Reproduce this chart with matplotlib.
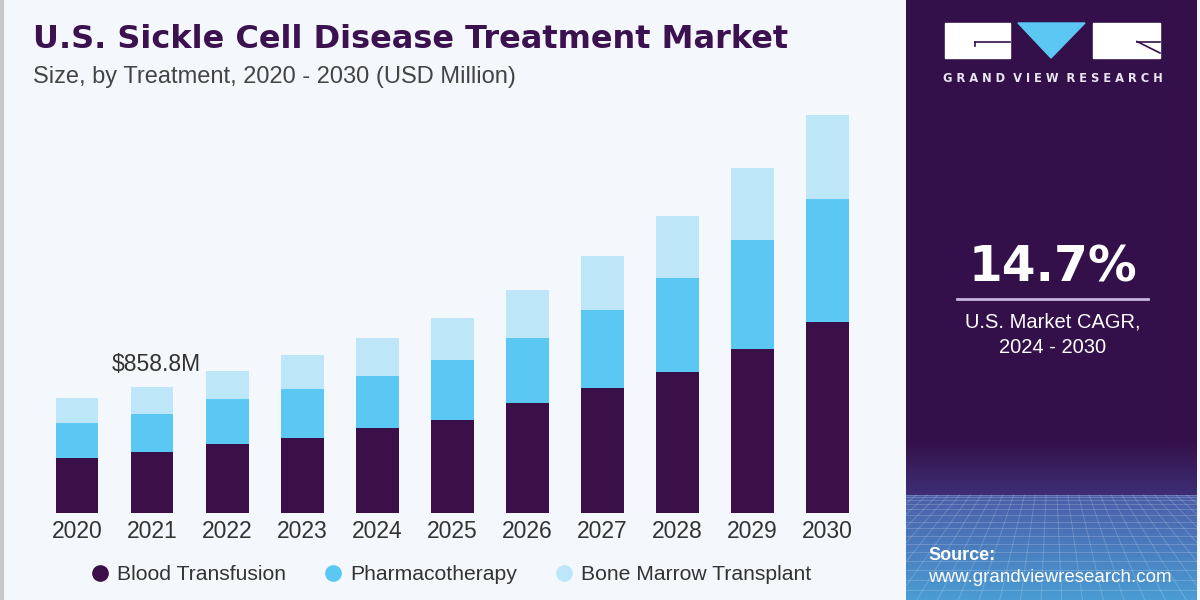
import numpy as np
import matplotlib
matplotlib.use("Agg")
import matplotlib.pyplot as plt
from matplotlib.lines import Line2D
from matplotlib.patches import Rectangle, Polygon

# ---------------- data ----------------
years = ["2020", "2021", "2022", "2023", "2024", "2025", "2026", "2027", "2028", "2029", "2030"]
blood_transfusion = [371, 415.8, 468, 511, 575, 632, 746, 848, 961, 1116, 1298]
pharmacotherapy = [243, 257, 305, 334, 359, 409, 443, 534, 641, 743, 840]
bone_marrow_transplant = [170, 186, 193, 230, 257, 286, 329, 370, 423, 489, 573]
series_names = ["Blood Transfusion", "Pharmacotherapy", "Bone Marrow Transplant"]
annot_year = "2021"
annot_label = "$858.8M"
title = "U.S. Sickle Cell Disease Treatment Market"
subtitle = "Size, by Treatment, 2020 - 2030 (USD Million)"
cagr_value = "14.7%"
cagr_label = "U.S. Market CAGR,\n2024 - 2030"

# ---------------- style ----------------
BG = "#F4F8FC"
C_BLOOD = "#3B0F47"
C_PHARMA = "#5BC8F4"
C_BMT = "#BDE7F8"
PANEL = "#34104A"
TITLE_C = "#3B1150"
TEXT_C = "#333333"
SANS = ["Liberation Sans", "DejaVu Sans"]

W, H = 1200, 600
fig = plt.figure(figsize=(12, 6), dpi=100, facecolor=BG)

# ---------------- main axes ----------------
spacing_px = 75.08
left_px = 77 - 0.6 * spacing_px
ax = fig.add_axes([left_px / W, 87.3 / H, 11.2 * spacing_px / W, 412.7 / H])
ax.set_facecolor(BG)
x = np.arange(len(years))
bw = 0.57
b1 = np.array(blood_transfusion)
b2 = np.array(pharmacotherapy)
b3 = np.array(bone_marrow_transplant)
ax.bar(x, b1, bw, color=C_BLOOD, label=series_names[0])
ax.bar(x, b2, bw, bottom=b1, color=C_PHARMA, label=series_names[1])
ax.bar(x, b3, bw, bottom=b1 + b2, color=C_BMT, label=series_names[2])
ax.set_xlim(-0.6, 10.6)
ax.set_ylim(0, 412.7 * 6.816)
ax.set_xticks(x)
ax.set_xticklabels(years, fontsize=16.5, color=TEXT_C, family=SANS)
ax.tick_params(axis="x", length=0, pad=5)
ax.set_yticks([])
for s in ax.spines.values():
    s.set_visible(False)

i = years.index(annot_year)
tot = b1[i] + b2[i] + b3[i]
ax.annotate(annot_label, (x[i], tot), xytext=(3, 8), textcoords="offset points",
            ha="center", va="bottom", fontsize=16.5, color=TEXT_C, family=SANS)

# titles
fig.text(33 / W, 1 - 40 / H, title, fontsize=23, fontweight="bold", color=TITLE_C,
         family="DejaVu Sans", va="center", ha="left")
fig.text(33 / W, 1 - 77 / H, subtitle, fontsize=17, color="#444444", family=SANS,
         va="center", ha="left")

# legend
handles = [Line2D([], [], marker="o", linestyle="none", markersize=11, color=c)
           for c in (C_BLOOD, C_PHARMA, C_BMT)]
leg = fig.legend(handles, series_names, loc="center", bbox_to_anchor=(452 / W, 1 - 575 / H),
                 ncol=3, frameon=False, handlelength=0.7, handletextpad=0.45,
                 columnspacing=1.9, prop={"family": SANS, "size": 15.2})
for t in leg.get_texts():
    t.set_color(TEXT_C)

# left border
fig.add_artist(Line2D([1.5 / W, 1.5 / W], [0, 1], transform=fig.transFigure, color="#C8C8C8", lw=3))

# ---------------- right panel ----------------
px0, px1 = 906, 1197
pax = fig.add_axes([px0 / W, 0, (px1 - px0) / W, 1])
pw = px1 - px0
pax.set_xlim(0, pw)
pax.set_ylim(H, 0)
pax.axis("off")


def hex2rgb(h):
    h = h.lstrip("#")
    return np.array([int(h[k:k + 2], 16) / 255 for k in (0, 2, 4)])


cols = np.zeros((H, 1, 3))
c_top = hex2rgb(PANEL)
c_mid = hex2rgb("#3E2F75")
c_grid = hex2rgb("#4B5DA8")
c_bot = hex2rgb("#4A9DD4")
for r in range(H):
    if r < 440:
        c = c_top
    elif r < 495:
        t = (r - 440) / 55
        c = c_top * (1 - t) + c_mid * t
    else:
        t = (r - 495) / 105
        c = c_grid * (1 - t) + c_bot * t
    cols[r, 0] = c
pax.imshow(np.repeat(cols, 4, axis=1), extent=[0, pw, H, 0], aspect="auto", zorder=0)

# perspective grid floor
vx, vy = pw / 2, 380
for k in np.linspace(0, 1, 16):
    yy = 495 + 105 * k ** 1.5
    pax.plot([0, pw], [yy, yy], color="white", alpha=0.18, lw=0.7, zorder=1)
for xb in np.linspace(-300, pw + 300, 44):
    t0 = (495 - vy) / (H - vy)
    x0 = vx + (xb - vx) * t0
    pax.plot([x0, xb], [495, H], color="white", alpha=0.18, lw=0.7, zorder=1)

# logo
ox = px0
pax.add_patch(Rectangle((945 - ox, 23), 65, 35, color="white", zorder=3))
pax.add_patch(Rectangle((1093 - ox, 23), 67, 35, color="white", zorder=3))
pax.add_patch(Polygon([(1018 - ox, 23), (1085 - ox, 23), (1051 - ox, 58)], closed=True,
                      color=C_PHARMA, zorder=3))
pax.plot([975 - ox, 1010 - ox], [41.5, 41.5], color=PANEL, lw=1.2, zorder=4)
pax.plot([975 - ox, 975 - ox], [41.5, 46], color=PANEL, lw=1.2, zorder=4)
pax.plot([1137 - ox, 1160 - ox], [41.5, 41.5], color=PANEL, lw=1.2, zorder=4)
pax.plot([1137 - ox, 1160 - ox], [41.5, 53], color=PANEL, lw=1.2, zorder=4)
pax.text((945 + 1160) / 2 - ox, 79, "G R A N D  V I E W  R E S E A R C H",
         fontsize=8.3, fontweight="bold", color="#E8E4F0", family="DejaVu Sans",
         ha="center", va="center", zorder=4)

# CAGR block
pax.text(1053 - ox, 267, cagr_value, fontsize=35, fontweight="bold", color="white",
         family="DejaVu Sans", ha="center", va="center", zorder=4)
pax.plot([957 - ox, 1148 - ox], [299, 299], color="#C9B6E0", lw=2, zorder=4)
pax.text(1053 - ox, 335, cagr_label, fontsize=14.5, color="white", family=SANS,
         ha="center", va="center", linespacing=1.45, zorder=4)

# source
pax.text(928 - ox, 555, "Source:", fontsize=13, fontweight="bold", color="white",
         family=SANS, ha="left", va="center", zorder=4)
pax.text(928 - ox, 577, "www.grandviewresearch.com", fontsize=13.5, color="white",
         family=SANS, ha="left", va="center", zorder=4)

fig.savefig("out.png", dpi=100, facecolor=BG)
